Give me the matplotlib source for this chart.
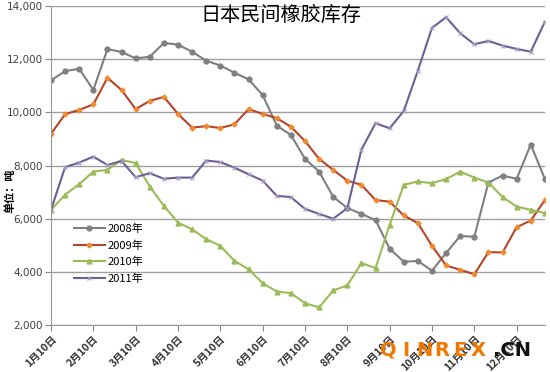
import numpy as np
import matplotlib
matplotlib.use("Agg")
import matplotlib.pyplot as plt

plt.rcParams['font.family'] = ['Noto Sans CJK SC', 'DejaVu Sans']

# 每10天一个数据点 (1月10日 ... 12月31日)
tick_labels = [f"{m}月10日" for m in range(1, 13)]
years = ["2008年", "2009年", "2010年", "2011年"]

stock_2008 = [11200, 11550, 11640, 10840, 12380, 12270, 12030, 12090, 12610, 12545,
              12280, 11940, 11760, 11490, 11240, 10650, 9500, 9150, 8250, 7770,
              6820, 6400, 6180, 5950, 4870, 4380, 4410, 4040, 4710, 5350,
              5320, 7360, 7620, 7500, 8790, 7490]
stock_2009 = [9190, 9930, 10090, 10300, 11300, 10840, 10120, 10430, 10580, 9940,
              9425, 9480, 9410, 9550, 10120, 9940, 9780, 9460, 8920, 8250,
              7835, 7430, 7270, 6700, 6640, 6120, 5830, 4980, 4240, 4075,
              3910, 4740, 4730, 5680, 5930, 6700]
stock_2010 = [6330, 6900, 7300, 7770, 7835, 8210, 8090, 7210, 6480, 5850,
              5600, 5230, 4980, 4410, 4100, 3575, 3260, 3200, 2820, 2660,
              3300, 3490, 4330, 4140, 5770, 7270, 7400, 7335, 7490, 7770,
              7545, 7360, 6810, 6455, 6330, 6210]
stock_2011 = [6330, 7940, 8110, 8335, 8020, 8170, 7560, 7710, 7500, 7545,
              7545, 8185, 8130, 7920, 7670, 7430, 6860, 6810, 6370, 6180,
              6000, 6395, 8600, 9590, 9400, 10050, 11570, 13180, 13575, 12975,
              12560, 12685, 12510, 12385, 12280, 13410]

x = np.arange(len(stock_2008))

fig = plt.figure(figsize=(5.5, 3.72), dpi=100)
ax = fig.add_axes([0.0927, 0.1263, 0.898, 0.8576])

ax.plot(x, stock_2008, color="#7f7f7f", lw=1.5, marker="o", ms=3.5,
        mfc="#808080", mec="#808080", label=years[0])
ax.plot(x, stock_2009, color="#b5452a", lw=1.5, marker="D", ms=2.5,
        mfc="#f08a2c", mec="#f08a2c", label=years[1])
ax.plot(x, stock_2010, color="#9bbb59", lw=1.5, marker="^", ms=3.5,
        mfc="#9bbb59", mec="#9bbb59", label=years[2])
ax.plot(x, stock_2011, color="#6e5e96", lw=1.5, marker="x", ms=3,
        mew=0.8, mec="#a89cc8", label=years[3])

ax.set_xlim(0, 35)
ax.set_ylim(2000, 14000)
ax.set_yticks(range(2000, 14001, 2000))
ax.set_yticklabels([f"{v:,}" for v in range(2000, 14001, 2000)],
                   fontsize=7.5, color="#404040", family="DejaVu Sans")
ax.set_xticks(x[::3])
ax.set_xticklabels(tick_labels, rotation=45, ha="right", va="top",
                   fontsize=7.5, fontweight="bold", color="#333333",
                   rotation_mode="anchor")
ax.tick_params(axis="x", length=4, color="#888888", pad=2)
ax.tick_params(axis="y", length=4, color="#888888", pad=2)

ax.grid(axis="y", color="#a0a0a0", lw=1)
ax.set_axisbelow(True)
for s in ["top", "right"]:
    ax.spines[s].set_visible(False)
ax.spines["left"].set_color("#999999")
ax.spines["bottom"].set_color("#999999")

ax.set_ylabel("单位：吨", fontsize=8, fontweight="bold", labelpad=2)
ax.yaxis.set_label_coords(-0.07, 0.42)

fig.text(0.51, 0.958, "日本民间橡胶库存", ha="center", va="center", fontsize=14.5)

ax.legend(loc="upper left", bbox_to_anchor=(0.035, 0.335), frameon=False,
          fontsize=8, handlelength=2.8, labelspacing=0.55, handletextpad=0.2,
          borderpad=0)

# 水印 (字母间距较大)
for i, ch in enumerate("QINREX"):
    fig.text((388 + i * 18) / 550, 0.058, ch, color="#f07800", fontsize=14,
             fontweight="bold", ha="center", va="center", family="DejaVu Sans")
fig.text(0.965, 0.058, ".CN", color="#111111", fontsize=14,
         fontweight="bold", ha="right", va="center", family="DejaVu Sans")

fig.savefig("out.png", dpi=100)
